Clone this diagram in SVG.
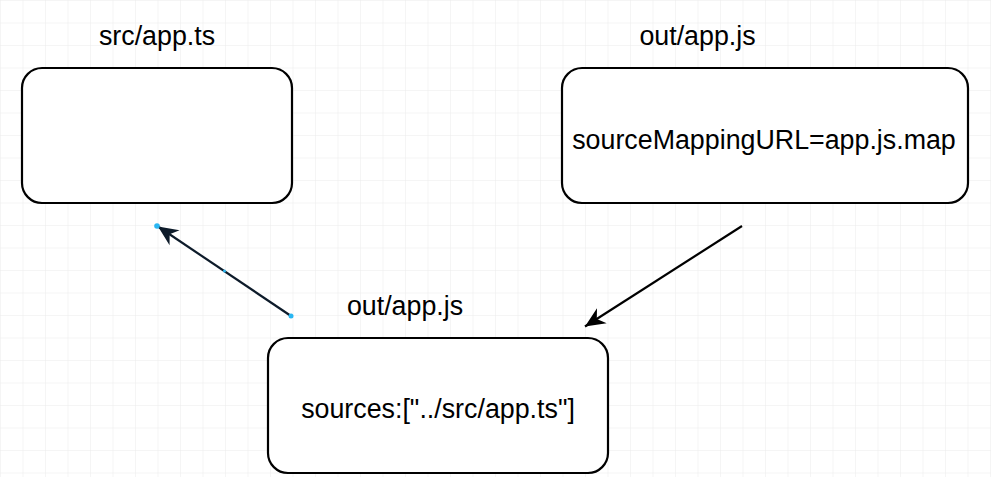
<svg xmlns="http://www.w3.org/2000/svg" width="991" height="477" viewBox="0 0 991 477">
  <style>
    .box { fill: #ffffff; stroke: #000000; stroke-width: 2.2; }
    .lbl { font-family: "Liberation Sans", Arial, Helvetica, sans-serif; font-size: 26.8px; fill: #000000; text-anchor: middle; }
    .edge { fill: none; stroke-width: 2.2; }
    .handle { fill: #29b6f2; }
  </style>
  <defs>
    <pattern id="grid" patternUnits="userSpaceOnUse" x="0" y="0" width="22.5" height="22.5">
      <path d="M 22.5 0 L 0 0 0 22.5" fill="none" stroke="#ececec" stroke-width="1"/>
    </pattern>
    <marker id="arrowNavy" markerUnits="userSpaceOnUse" markerWidth="22" markerHeight="20" refX="20" refY="9" orient="auto" overflow="visible">
      <path d="M0,0 L20,9 L0,18 L6,9 Z" fill="#0d1b2a"/>
    </marker>
    <marker id="arrowBlack" markerUnits="userSpaceOnUse" markerWidth="22" markerHeight="20" refX="20" refY="9" orient="auto" overflow="visible">
      <path d="M0,0 L20,9 L0,18 L6,9 Z" fill="#000000"/>
    </marker>
  </defs>
  <rect x="0" y="0" width="991" height="477" fill="#ffffff"/>
  <rect x="0" y="0" width="991" height="477" fill="url(#grid)"/>

  <g id="node-src">
    <rect class="box" x="22" y="68" width="270" height="135" rx="20" ry="20"/>
    <text class="lbl" x="157" y="45">src/app.ts</text>
  </g>

  <g id="node-out">
    <rect class="box" x="562" y="68" width="406" height="135" rx="20" ry="20"/>
    <text class="lbl" x="697.5" y="45">out/app.js</text>
    <text class="lbl" x="764" y="149">sourceMappingURL=app.js.map</text>
  </g>

  <g id="node-map">
    <rect class="box" x="268" y="338" width="340" height="135" rx="20" ry="20"/>
    <text class="lbl" x="405" y="315">out/app.js</text>
    <text class="lbl" x="438" y="418">sources:["../src/app.ts"]</text>
  </g>

  <g id="connectors">
    <line class="edge" x1="291" y1="316" x2="158" y2="226.5" stroke="#0d1b2a" marker-end="url(#arrowNavy)"/>
    <line class="edge" x1="742" y1="226" x2="585" y2="326.5" stroke="#000000" marker-end="url(#arrowBlack)"/>
    <circle class="handle" cx="157" cy="226" r="2.8"/>
    <circle class="handle" cx="291" cy="316" r="2.5"/>
    <circle class="handle" cx="224.5" cy="271" r="1.5"/>
  </g>
</svg>
